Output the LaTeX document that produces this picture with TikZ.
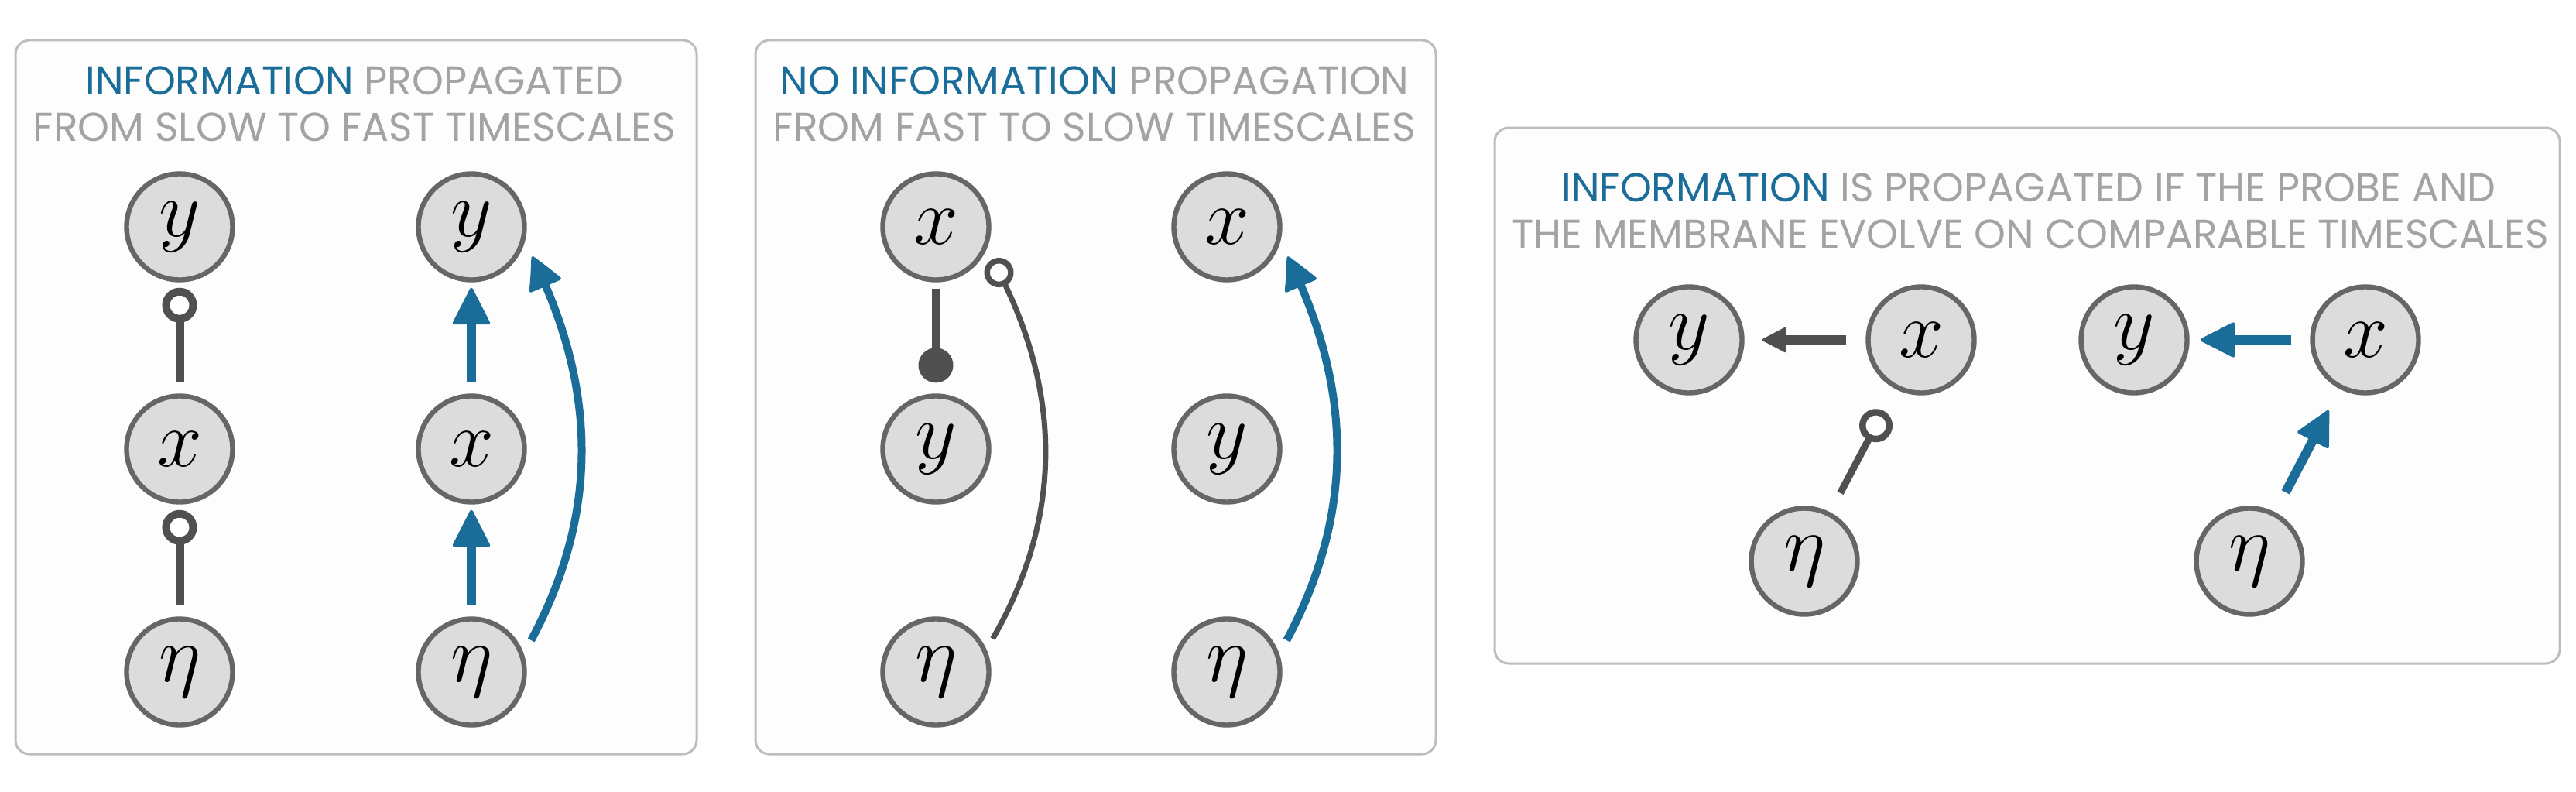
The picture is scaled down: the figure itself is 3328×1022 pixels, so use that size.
\RequirePackage{fix-cm}
\documentclass[tikz,border=0pt]{standalone}
\usepackage{fontspec}
\setmainfont{Poppins}
\usetikzlibrary{arrows.meta,bending}
\definecolor{infoblue}{HTML}{1B6D99}
\definecolor{titlegray}{HTML}{A3A3A3}
\definecolor{linegray}{HTML}{505050}
\definecolor{nodegray}{HTML}{DCDCDC}
\definecolor{nodeedge}{HTML}{666666}
\definecolor{boxedge}{HTML}{BDBDBD}
\definecolor{boxfill}{HTML}{FDFDFD}
\tikzset{
  var/.style={circle, draw=nodeedge, fill=nodegray, line width=3.2pt,
    minimum size=68.5pt, inner sep=0pt, font=\fontsize{52}{60}\selectfont},
  panel/.style={draw=boxedge, fill=boxfill, line width=1.5pt, rounded corners=9pt},
  title/.style={font=\fontsize{26}{30}\selectfont, text=titlegray, anchor=base, inner sep=0pt},
  lolli/.style={draw=linegray, line width=5.5pt,
    -{Circle[fill=white, length=22.5pt, width=22.5pt, line width=5pt]}},
  dotline/.style={draw=linegray, line width=5pt,
    -{Circle[length=22.5pt, width=22.5pt]}},
  bluearrow/.style={draw=infoblue, line width=6.3pt,
    -{Triangle[length=25pt, width=25pt, round, line width=2pt]}},
  bluecurve/.style={draw=infoblue, line width=5pt,
    -{Triangle[length=23pt, width=23pt, round, line width=2pt, bend]}},
  graycurve/.style={draw=linegray, line width=3.5pt,
    -{Circle[fill=white, length=19pt, width=19pt, line width=3.7pt]}},
  grayarrow/.style={draw=linegray, line width=6pt,
    -{Triangle[length=16.5pt, width=17pt, round, line width=1.5pt]}},
  lollithree/.style={draw=linegray, line width=4.5pt,
    -{Circle[fill=white, length=21.5pt, width=21.5pt, line width=4.2pt]}},
  bluethree/.style={draw=infoblue, line width=6pt,
    -{Triangle[length=23.5pt, width=23.5pt, round, line width=2pt]}},
}
\begin{document}
\begin{tikzpicture}[x=0.5pt, y=0.5pt]
\fill[white] (0,0) rectangle (3328,-1022);
\useasboundingbox (0,0) rectangle (3328,-1022);

% panels
\path[panel] (20,-52) rectangle (900,-974);
\path[panel] (976,-52) rectangle (1855,-974);
\path[panel] (1931,-165) rectangle (3307,-857);

% titles
\node[title] (t1a) at (458,-122) {\textcolor{infoblue}{INFORMATION} PROPAGATED};
\node[title] (t1b) at (458,-182) {FROM SLOW TO FAST TIMESCALES};
\node[title] (t2a) at (1414,-122) {\textcolor{infoblue}{NO INFORMATION} PROPAGATION};
\node[title] (t2b) at (1414,-182) {FROM FAST TO SLOW TIMESCALES};
\node[title] (t3a) at (2621,-260) {\textcolor{infoblue}{INFORMATION} IS PROPAGATED IF THE PROBE AND};
\node[title] (t3b) at (2623,-320) {THE MEMBRANE EVOLVE ON COMPARABLE TIMESCALES};

% panel 1
\node[var] (y1) at (232,-293) {$y$};
\node[var] (x1) at (232,-580) {$x$};
\node[var] (e1) at (232,-868) {$\eta$};
\node[var] (y2) at (609,-293) {$y$};
\node[var] (x2) at (609,-580) {$x$};
\node[var] (e2) at (609,-868) {$\eta$};
\draw[lolli, shorten >=3.5pt, shorten <=7.5pt] (x1) -- (y1);
\draw[lolli, shorten >=3.5pt, shorten <=7.5pt] (e1) -- (x1);
\draw[bluearrow, shorten >=3.5pt, shorten <=7.5pt] (x2) -- (y2);
\draw[bluearrow, shorten >=3.5pt, shorten <=7.5pt] (e2) -- (x2);
\draw[bluecurve, shorten >=10.5pt, shorten <=10pt] (e2.19) to[bend right=28] (y2.-16);

% panel 2
\node[var] (x3) at (1209,-293) {$x$};
\node[var] (y3) at (1209,-580) {$y$};
\node[var] (e3) at (1209,-868) {$\eta$};
\node[var] (x4) at (1585,-293) {$x$};
\node[var] (y4) at (1585,-580) {$y$};
\node[var] (e4) at (1585,-868) {$\eta$};
\draw[dotline, shorten >=7pt, shorten <=4pt] (x3) -- (y3);
\draw[graycurve, shorten >=7.5pt, shorten <=8pt] (e3.24) to[bend right=30] (x3.-24);
\draw[bluecurve, shorten >=10.5pt, shorten <=10pt] (e4.19) to[bend right=28] (x4.-16);

% panel 3
\node[var] (y5) at (2182,-439) {$y$};
\node[var] (x5) at (2482,-439) {$x$};
\node[var] (e5) at (2331,-725) {$\eta$};
\node[var] (y6) at (2757,-439) {$y$};
\node[var] (x6) at (3056,-439) {$x$};
\node[var] (e6) at (2906,-725) {$\eta$};
\draw[grayarrow, shorten >=11.5pt, shorten <=12.5pt] (x5) -- (y5);
\draw[lollithree, shorten >=16pt, shorten <=14pt] (e5) -- (x5);
\draw[bluethree, shorten >=7pt, shorten <=12pt] (x6) -- (y6);
\draw[bluethree, shorten >=15.5pt, shorten <=14.5pt] (e6) -- (x6);
\end{tikzpicture}
\end{document}
